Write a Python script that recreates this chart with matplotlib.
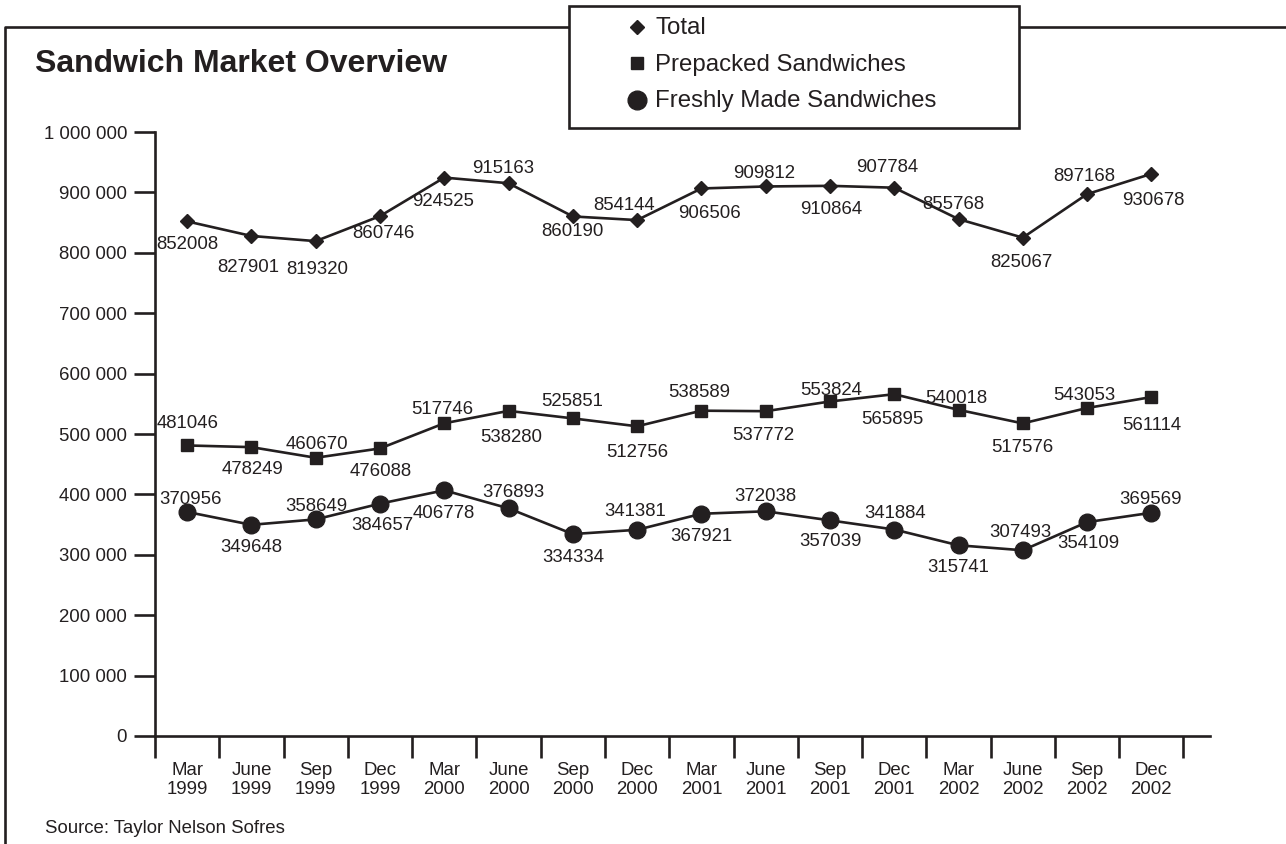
import matplotlib
matplotlib.use("Agg")
import matplotlib.pyplot as plt
from matplotlib.lines import Line2D
from matplotlib.patches import Rectangle

plt.rcParams['font.family'] = ['Liberation Sans', 'DejaVu Sans']

# data
quarters = ["Mar\n1999", "June\n1999", "Sep\n1999", "Dec\n1999",
            "Mar\n2000", "June\n2000", "Sep\n2000", "Dec\n2000",
            "Mar\n2001", "June\n2001", "Sep\n2001", "Dec\n2001",
            "Mar\n2002", "June\n2002", "Sep\n2002", "Dec\n2002"]
total = [852008, 827901, 819320, 860746, 924525, 915163, 860190, 854144,
         906506, 909812, 910864, 907784, 855768, 825067, 897168, 930678]
prepacked = [481046, 478249, 460670, 476088, 517746, 538280, 525851, 512756,
             538589, 537772, 553824, 565895, 540018, 517576, 543053, 561114]
freshly = [370956, 349648, 358649, 384657, 406778, 376893, 334334, 341381,
           367921, 372038, 357039, 341884, 315741, 307493, 354109, 369569]
series_names = ["Total", "Prepacked Sandwiches", "Freshly Made Sandwiches"]

# where each value label sits relative to its marker (pixels, up = +)
total_lbl = [(0, -21), (-3, -30), (2, -26), (3, -15), (-1, -22), (-5, 17), (0, -13), (-13, 17),
             (8, -23), (-2, 15), (1, -22), (-7, 22), (-5, 17), (-1, -23), (-3, 20), (2, -25)]
prepacked_lbl = [(0, 24), (1, -20), (1, 15), (1, -21), (-2, 16), (3, -25), (-1, 19), (0, -24),
                 (-2, 20), (-2, -22), (1, 13), (-2, -23), (-2, 13), (0, -22), (-3, 14), (0, -26)]
freshly_lbl = [(3, 14), (0, -21), (1, 15), (2, -20), (-1, -21), (5, 18), (0, -21), (-2, 20),
               (0, -21), (0, 17), (1, -19), (1, 18), (0, -20), (-2, 20), (1, -19), (-1, 15)]

ink = "#231f20"
W, H = 1286, 844
fs = 13.4

styles = [dict(marker="D", markersize=7.2),
          dict(marker="s", markersize=8.8),
          dict(marker="o", markersize=12)]
legend_ms = [7.2, 9.2, 13.5]

fig = plt.figure(figsize=(W / 100, H / 100), dpi=100)
ax = fig.add_axes([155 / W, (H - 736) / H, (1210 - 155) / W, (736 - 132) / H])

xs = list(range(len(quarters)))
for vals, lbls, st in zip([total, prepacked, freshly],
                          [total_lbl, prepacked_lbl, freshly_lbl], styles):
    ax.plot(xs, vals, color=ink, lw=1.9, markerfacecolor=ink, markeredgecolor=ink,
            clip_on=False, zorder=3, **st)
    for x, v, (dx, dy) in zip(xs, vals, lbls):
        ax.annotate(str(v), (x, v), xytext=(dx, dy), textcoords="offset pixels",
                    ha="center", va="center_baseline", fontsize=fs, color=ink)

ax.set_xlim(-0.5, (1210 - 155) / 64.28 - 0.5)
ax.set_ylim(0, 1000000)
for s in ["top", "right"]:
    ax.spines[s].set_visible(False)
for s in ["left", "bottom"]:
    ax.spines[s].set_linewidth(1.9)
    ax.spines[s].set_color(ink)

yt = list(range(0, 1000001, 100000))
ax.set_yticks(yt)
ax.set_yticklabels([f"{v:,}".replace(",", " ") for v in yt])
ax.tick_params(axis="y", length=15, width=1.9, pad=5, labelsize=fs, colors=ink)

ax.set_xticks(xs)
ax.set_xticklabels(quarters, linespacing=1.17)
ax.set_xticks([x - 0.5 for x in range(len(quarters) + 1)], minor=True)
ax.tick_params(axis="x", which="major", length=0, pad=18.5, labelsize=fs, colors=ink)
ax.tick_params(axis="x", which="minor", length=16, width=1.9, color=ink)

# outer frame (left and top edges only)
fig.add_artist(Line2D([5 / W, 5 / W, 1], [0, 1 - 27 / H, 1 - 27 / H],
                      transform=fig.transFigure, color=ink, lw=1.9, zorder=1))

fig.text(35 / W, 1 - 72 / H, "Sandwich Market Overview", fontsize=23,
         fontweight="bold", color=ink, va="baseline")

# legend box
fig.add_artist(Rectangle((569 / W, 1 - 128 / H), 450 / W, 122 / H,
                         transform=fig.transFigure, facecolor="white",
                         edgecolor=ink, lw=1.9, zorder=2))
for i, (name, st) in enumerate(zip(series_names, styles)):
    my = 26.5 + 36.5 * i
    fig.add_artist(Line2D([637 / W], [1 - my / H], transform=fig.transFigure,
                          marker=st["marker"], markersize=legend_ms[i], ls="none",
                          markerfacecolor=ink, markeredgecolor=ink, zorder=4))
    fig.text(655 / W, 1 - (my + 8) / H, name, fontsize=17.3, color=ink,
             va="baseline", zorder=4)

fig.text(45 / W, 1 - 833 / H, "Source: Taylor Nelson Sofres", fontsize=fs,
         color=ink, va="baseline")

fig.savefig("out.png", dpi=100, facecolor="white")
